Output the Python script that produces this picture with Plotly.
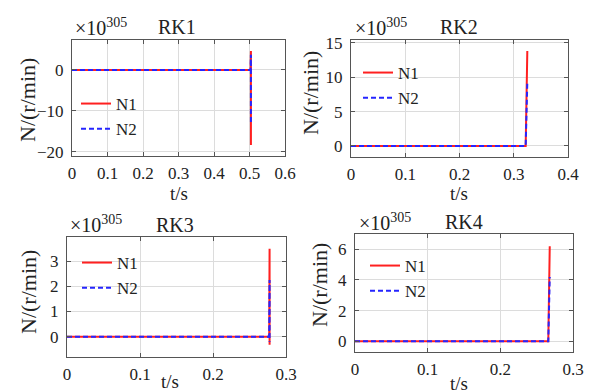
import plotly.graph_objects as go

# ---- data (values in units of 1e305 r/min) ----
rk1_t = [0.0, 0.503, 0.504, 0.504]
rk1_n1 = [0.0, 0.0, 4.6, -18.3]
rk1_n2 = [0.0, 0.0, 3.7, -12.7]

rk2_t = [0.0, 0.322, 0.325]
rk2_n1 = [0.0, 0.0, 13.8]
rk2_n2 = [0.0, 0.0, 9.3]

rk3_t = [0.0, 0.277, 0.2775, 0.2775]
rk3_n1 = [0.0, 0.0, 3.48, -0.32]
rk3_n2 = [0.0, 0.0, 2.25, -0.2]

rk4_t = [0.0, 0.266, 0.268]
rk4_n1 = [0.0, 0.0, 6.2]
rk4_n2 = [0.0, 0.0, 4.2]

titles = ["RK1", "RK2", "RK3", "RK4"]
series_names = ["N1", "N2"]
x_ranges = [[0, 0.6], [0, 0.4], [0, 0.3], [0, 0.3]]
y_ranges = [[-21, 7.3], [-1.6, 15.4], [-0.8, 3.95], [-0.7, 7.0]]
x_dticks = [0.1, 0.1, 0.1, 0.1]
y_tickvals = [[-20, -10, 0], [0, 5, 10, 15], [0, 1, 2, 3], [0, 2, 4, 6]]

W, H = 596, 391
OFF = 8  # page body margin of the generated html
FONT = "Times New Roman, Liberation Serif, serif"

# plot-area boxes in screen pixels: x0, x1, y0(top), y1(bottom)
boxes = [(72, 285, 40, 156), (351, 568, 40, 157), (67, 286, 237, 357), (355, 573, 234, 352)]

def px(x):
    return (x - OFF) / W

def py(y):
    return 1 - (y - OFF) / H

fig = go.Figure()
data = [(rk1_t, rk1_n1, rk1_n2), (rk2_t, rk2_n1, rk2_n2),
        (rk3_t, rk3_n1, rk3_n2), (rk4_t, rk4_n1, rk4_n2)]
legend_ids = ["legend", "legend2", "legend3", "legend4"]

for i, (t, n1, n2) in enumerate(data):
    xa = "x" if i == 0 else f"x{i+1}"
    ya = "y" if i == 0 else f"y{i+1}"
    fig.add_trace(go.Scatter(x=t, y=n1, mode="lines", name=series_names[0],
                             line=dict(color="#ff2020", width=2),
                             xaxis=xa, yaxis=ya, legend=legend_ids[i]))
    fig.add_trace(go.Scatter(x=t, y=n2, mode="lines", name=series_names[1],
                             line=dict(color="#2525ff", width=2, dash="5px,3px"),
                             xaxis=xa, yaxis=ya, legend=legend_ids[i]))

layout = dict(width=W, height=H, margin=dict(l=0, r=0, t=0, b=0, autoexpand=False),
              paper_bgcolor="white", plot_bgcolor="white", showlegend=True,
              font=dict(family=FONT, color="#222"))

legend_pos = [(76, 86), (358, 55), (77, 245), (365, 248)]
for i, (x0, x1, y0, y1) in enumerate(boxes):
    sx = "" if i == 0 else str(i + 1)
    layout[f"xaxis{sx}"] = dict(
        domain=[px(x0), px(x1)], range=x_ranges[i], dtick=x_dticks[i], tick0=0,
        anchor=f"y{sx}", showline=True, mirror="ticks", linecolor="#555", linewidth=1,
        showgrid=True, gridcolor="#dcdcdc", gridwidth=1, zeroline=False,
        ticks="inside", ticklen=4, tickcolor="#555", automargin=False,
        tickfont=dict(family=FONT, size=17, color="#222"), ticklabelstandoff=2,
    )
    layout[f"yaxis{sx}"] = dict(
        domain=[py(y1), py(y0)], range=y_ranges[i], tickvals=y_tickvals[i],
        anchor=f"x{sx}", showline=True, mirror="ticks", linecolor="#555", linewidth=1,
        showgrid=True, gridcolor="#dcdcdc", gridwidth=1, zeroline=False,
        ticks="inside", ticklen=4, tickcolor="#555", automargin=False,
        tickfont=dict(family=FONT, size=17, color="#222"), ticklabelstandoff=4,
    )
    lx, ly = legend_pos[i]
    layout[legend_ids[i]] = dict(
        x=px(lx), y=py(ly), xanchor="left", yanchor="top",
        bgcolor="rgba(0,0,0,0)", borderwidth=0,
        font=dict(family=FONT, size=17, color="#222"),
        tracegroupgap=0, itemwidth=30,
    )

fig.update_layout(**layout)

# titles, exponents, axis labels
title_pos = [(177, 27), (459, 27), (175, 225), (464, 222)]
exp_pos = [(73, 27), (353, 27), (68, 224), (357, 222)]
xlab_pos = [(179, 193), (459, 193), (170, 381), (459, 383)]
ylab_pos = [(27, 100), (311, 93), (28, 292), (319, 285)]

for i in range(4):
    tx, ty = title_pos[i]
    fig.add_annotation(x=px(tx), y=py(ty), xref="paper", yref="paper", text=titles[i],
                       showarrow=False, font=dict(family=FONT, size=20, color="#222"),
                       xanchor="center", yanchor="middle")
    ex, ey = exp_pos[i]
    fig.add_annotation(x=px(ex), y=py(ey), xref="paper", yref="paper",
                       text="×10<sup>305</sup>", showarrow=False,
                       font=dict(family=FONT, size=20, color="#222"),
                       xanchor="left", yanchor="middle")
    lx, ly = xlab_pos[i]
    fig.add_annotation(x=px(lx), y=py(ly), xref="paper", yref="paper", text="t/s",
                       showarrow=False, font=dict(family=FONT, size=19, color="#222"),
                       xanchor="center", yanchor="middle")
    yx, yy = ylab_pos[i]
    fig.add_annotation(x=px(yx), y=py(yy), xref="paper", yref="paper", text="N/(r/min)",
                       showarrow=False, textangle=-90,
                       font=dict(family=FONT, size=22, color="#222"),
                       xanchor="center", yanchor="middle")

fig.write_html("out.html")
